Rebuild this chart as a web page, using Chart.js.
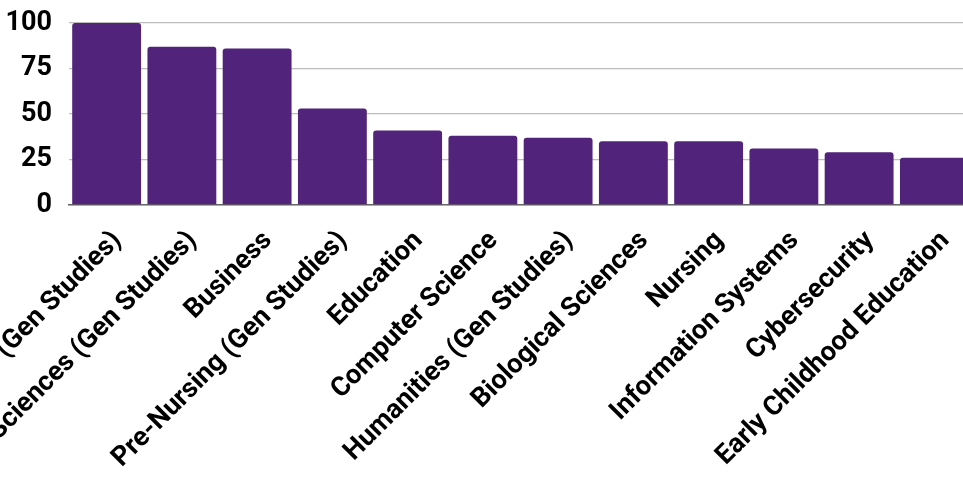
<!DOCTYPE html>
<html>
<head>
<meta charset="utf-8">
<script src="https://cdn.jsdelivr.net/npm/chart.js@4/dist/chart.umd.min.js"></script>
<style>
  html, body { margin: 0; padding: 0; background: #fff; }
  #frame { width: 963px; height: 490px; overflow: hidden; position: relative; }
  #wrap { width: 972px; height: 490px; position: absolute; left: 0; top: 0; }
</style>
</head>
<body>
<div id="frame"><div id="wrap"><canvas id="chart"></canvas></div></div>
<script>
// program categories (first two are cut at the left edge in the original)
const categories = [
  'Liberal Arts (Gen Studies)',
  'Health Sciences (Gen Studies)',
  'Business',
  'Pre-Nursing (Gen Studies)',
  'Education',
  'Computer Science',
  'Humanities (Gen Studies)',
  'Biological Sciences',
  'Nursing',
  'Information Systems',
  'Cybersecurity',
  'Early Childhood Education'
];
const counts = [100, 87, 86, 53, 41, 38, 37, 35, 35, 31, 29, 26];
const yTicks = [0, 25, 50, 75, 100];

const barColor = '#51237a';

new Chart(document.getElementById('chart'), {
  type: 'bar',
  data: {
    labels: categories,
    datasets: [{
      data: counts,
      backgroundColor: barColor,
      borderRadius: 3,
      categoryPercentage: 1.0,
      barPercentage: 0.915
    }]
  },
  options: {
    responsive: true,
    maintainAspectRatio: false,
    animation: false,
    layout: { padding: { top: 23, left: 0, right: 0, bottom: 0 } },
    plugins: {
      legend: { display: false },
      tooltip: { enabled: false }
    },
    scales: {
      x: {
        grid: { display: false },
        border: { display: true, color: '#666', width: 1.5 },
        ticks: {
          color: '#000',
          font: { family: 'Roboto', weight: 'bold', size: 27 },
          minRotation: 45,
          maxRotation: 45,
          autoSkip: false,
          padding: 12,
          labelOffset: 11
        },
        // let the long first labels run off the canvas like the original
        afterFit(scale) {
          scale.paddingLeft = 0;
          scale.paddingRight = 0;
          scale.height = 285;
        }
      },
      y: {
        min: 0,
        max: 100,
        afterBuildTicks(scale) {
          scale.ticks = yTicks.map(v => ({ value: v }));
        },
        afterFit(scale) {
          scale.width = 69;
          scale.paddingTop = 0;
          scale.paddingBottom = 0;
        },
        grid: { color: '#bdbdbd', lineWidth: 1.3, drawTicks: false },
        border: { display: false },
        ticks: {
          color: '#000',
          font: { family: 'Roboto', weight: 'bold', size: 27 },
          padding: 17
        }
      }
    }
  }
});
</script>
</body>
</html>
